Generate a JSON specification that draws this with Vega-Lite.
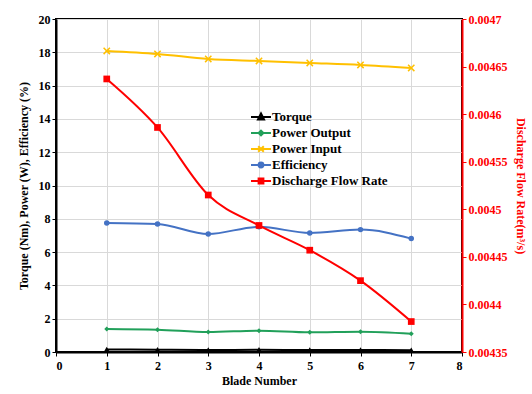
{
  "$schema": "https://vega.github.io/schema/vega-lite/v6.json",
  "width": 406,
  "height": 333,
  "padding": {"left": 17, "top": 13, "right": 5, "bottom": 5},
  "background": "white",
  "config": {
    "font": "Liberation Serif",
    "view": {"stroke": "black", "strokeWidth": 2},
    "axis": {"labelFont": "Liberation Serif", "labelFontWeight": "bold", "labelFontSize": 12, "labelColor": "black", "titleFont": "Liberation Serif", "titleFontWeight": "bold", "titleFontSize": 12, "titleColor": "black", "gridColor": "#d9d9d9", "gridWidth": 1, "domainColor": "black", "domainWidth": 2, "tickColor": "black"},
    "legend": {"labelFont": "Liberation Serif", "labelFontWeight": "bold", "labelFontSize": 13, "labelColor": "black"}
  },
  "data": {"values": [
    {"blade": 1, "series": "Torque", "value": 0.15},
    {"blade": 2, "series": "Torque", "value": 0.14},
    {"blade": 3, "series": "Torque", "value": 0.12},
    {"blade": 4, "series": "Torque", "value": 0.13},
    {"blade": 5, "series": "Torque", "value": 0.12},
    {"blade": 6, "series": "Torque", "value": 0.12},
    {"blade": 7, "series": "Torque", "value": 0.11},
    {"blade": 1, "series": "Power Output", "value": 1.38},
    {"blade": 2, "series": "Power Output", "value": 1.34},
    {"blade": 3, "series": "Power Output", "value": 1.2},
    {"blade": 4, "series": "Power Output", "value": 1.28},
    {"blade": 5, "series": "Power Output", "value": 1.18},
    {"blade": 6, "series": "Power Output", "value": 1.22},
    {"blade": 7, "series": "Power Output", "value": 1.1},
    {"blade": 1, "series": "Power Input", "value": 18.08},
    {"blade": 2, "series": "Power Input", "value": 17.9},
    {"blade": 3, "series": "Power Input", "value": 17.6},
    {"blade": 4, "series": "Power Input", "value": 17.48},
    {"blade": 5, "series": "Power Input", "value": 17.36},
    {"blade": 6, "series": "Power Input", "value": 17.24},
    {"blade": 7, "series": "Power Input", "value": 17.06},
    {"blade": 1, "series": "Efficiency", "value": 7.75},
    {"blade": 2, "series": "Efficiency", "value": 7.69},
    {"blade": 3, "series": "Efficiency", "value": 7.09},
    {"blade": 4, "series": "Efficiency", "value": 7.52},
    {"blade": 5, "series": "Efficiency", "value": 7.15},
    {"blade": 6, "series": "Efficiency", "value": 7.35},
    {"blade": 7, "series": "Efficiency", "value": 6.81},
    {"blade": 1, "series": "Discharge Flow Rate", "value": 0.004637},
    {"blade": 2, "series": "Discharge Flow Rate", "value": 0.004586},
    {"blade": 3, "series": "Discharge Flow Rate", "value": 0.004515},
    {"blade": 4, "series": "Discharge Flow Rate", "value": 0.004483},
    {"blade": 5, "series": "Discharge Flow Rate", "value": 0.004457},
    {"blade": 6, "series": "Discharge Flow Rate", "value": 0.004425},
    {"blade": 7, "series": "Discharge Flow Rate", "value": 0.004382}
  ]},
  "encoding": {
    "x": {"field": "blade", "type": "quantitative", "scale": {"domain": [0, 8], "nice": false}, "axis": {"title": "Blade Number", "values": [0,1,2,3,4,5,6,7,8], "format": "d", "grid": true, "tickSize": 4, "labelPadding": 4, "labelFont": "Liberation Serif", "titleFont": "Liberation Serif"}}
  },
  "layer": [
    {
      "transform": [{"filter": "datum.series !== 'Discharge Flow Rate'"}],
      "encoding": {
        "y": {"field": "value", "type": "quantitative", "scale": {"domain": [0, 20], "nice": false}, "axis": {"title": "Torque (Nm), Power (W), Efficiency (%)", "values": [0,2,4,6,8,10,12,14,16,18,20], "grid": true, "tickSize": 4, "titlePadding": 8, "labelFont": "Liberation Serif", "titleFont": "Liberation Serif"}},
        "color": {"field": "series", "type": "nominal", "scale": {"domain": ["Torque", "Power Output", "Power Input", "Efficiency", "Discharge Flow Rate"], "range": ["#000000", "#21A05A", "#FFC000", "#4472C4", "#FF0000"]}}
      },
      "layer": [
        {"mark": {"type": "line", "interpolate": "monotone", "strokeWidth": 2},
         "encoding": {"color": {"field": "series", "type": "nominal", "legend": {
            "orient": "none", "legendX": 196, "legendY": 89, "title": null, "symbolSize": 256, "rowPadding": 0, "labelOffset": 2, "symbolStrokeWidth": 2,
            "encode": {"symbols": {"update": {
              "shape": {"signal": "datum.value === 'Torque' ? 'M-1.25,0H1.25M0,-0.45L0.38,0.3L-0.38,0.3Z' : datum.value === 'Power Output' ? 'M-1.25,0H1.25M0,-0.3L0.3,0L0,0.3L-0.3,0Z' : datum.value === 'Power Input' ? 'M-1.25,0H1.25M-0.35,-0.35L0.35,0.35M-0.35,0.35L0.35,-0.35' : datum.value === 'Efficiency' ? 'M-1.25,0H1.25M0.3,0A0.3,0.3 0 1,1 -0.3,0A0.3,0.3 0 1,1 0.3,0Z' : 'M-1.25,0H1.25M-0.3,-0.3H0.3V0.3H-0.3Z'"},
              "fill": {"signal": "scale('color', datum.value)"},
              "stroke": {"signal": "scale('color', datum.value)"},
              "strokeWidth": {"value": 2},
              "size": {"value": 256}
            }}}
         }}}},
        {"transform": [{"filter": "datum.series === 'Torque'"}],
         "mark": {"type": "point", "filled": true, "opacity": 1, "shape": "triangle-up", "size": 40}},
        {"transform": [{"filter": "datum.series === 'Power Output'"}],
         "mark": {"type": "point", "filled": true, "opacity": 1, "shape": "diamond", "size": 25}},
        {"transform": [{"filter": "datum.series === 'Efficiency'"}],
         "mark": {"type": "point", "filled": true, "opacity": 1, "shape": "circle", "size": 30}},
        {"transform": [{"filter": "datum.series === 'Power Input'"}],
         "mark": {"type": "point", "filled": false, "opacity": 1, "shape": "M-1,-1L1,1M-1,1L1,-1", "size": 40, "strokeWidth": 1.5}}
      ]
    },
    {
      "transform": [{"filter": "datum.series === 'Discharge Flow Rate'"}],
      "encoding": {
        "y": {"field": "value", "type": "quantitative", "scale": {"domain": [0.00435, 0.0047], "nice": false, "zero": false}, "axis": {"orient": "right", "title": "Discharge Flow Rate(m³/s)", "values": [0.00435, 0.0044, 0.00445, 0.0045, 0.00455, 0.0046, 0.00465, 0.0047], "format": ".5~f", "grid": false, "labelColor": "#FF0000", "titleColor": "#FF0000", "domainColor": "#FF0000", "tickColor": "#FF0000", "tickSize": 4, "titlePadding": 6, "labelFont": "Liberation Serif", "titleFont": "Liberation Serif"}},
        "color": {"field": "series", "type": "nominal"}
      },
      "layer": [
        {"mark": {"type": "line", "interpolate": "monotone", "strokeWidth": 2}},
        {"mark": {"type": "point", "filled": true, "opacity": 1, "shape": "square", "size": 45}}
      ]
    }
  ],
  "resolve": {"scale": {"y": "independent"}}
}
